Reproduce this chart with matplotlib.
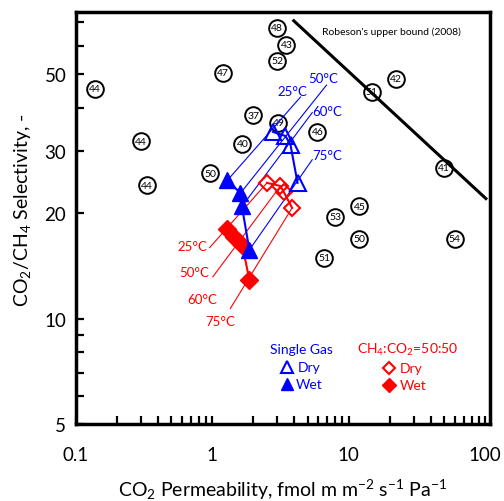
import numpy as np
import matplotlib
matplotlib.use("Agg")
import matplotlib.pyplot as plt
from matplotlib.ticker import FixedLocator, NullFormatter, FixedFormatter

plt.rcParams['font.family'] = ['Lato', 'DejaVu Sans']
plt.rcParams['mathtext.fontset'] = 'custom'
plt.rcParams['mathtext.rm'] = 'Lato'
plt.rcParams['mathtext.it'] = 'Lato:italic'
plt.rcParams['mathtext.bf'] = 'Lato:bold'

# literature membranes: reference number, CO2 permeability, CO2/CH4 selectivity
lit_refs = [44, 44, 44, 47, 48, 43, 52, 37, 49, 40, 50, 46, 42, 51, 41, 45, 53, 50, 51, 54]
lit_perm = [0.138, 0.30, 0.333, 1.2, 3.0, 3.5, 3.0, 2.0, 3.06, 1.66, 0.97, 5.9,
            22.2, 14.8, 50.0, 12.0, 8.0, 12.0, 6.6, 60.0]
lit_sel = [45.3, 32.1, 24.0, 50.3, 67.7, 60.5, 54.5, 38.1, 36.2, 31.5, 26.0, 34.1,
           48.4, 44.4, 26.9, 20.9, 19.5, 16.9, 14.9, 16.9]

temps = ["25°C", "50°C", "60°C", "75°C"]

# this work, single gas
sg_dry_perm = [2.79, 3.44, 3.75, 4.22]
sg_dry_sel = [34.1, 33.2, 31.3, 24.4]
sg_wet_perm = [1.29, 1.61, 1.65, 1.87]
sg_wet_sel = [24.8, 22.8, 20.9, 15.7]

# this work, CH4:CO2 = 50:50 mixture
mix_dry_perm = [2.52, 3.16, 3.36, 3.85]
mix_dry_sel = [24.4, 23.9, 22.9, 20.7]
mix_wet_perm = [1.29, 1.45, 1.66, 1.87]
mix_wet_sel = [18.0, 17.1, 16.2, 12.9]

# Robeson upper bound (2008), end points
robeson_perm = [3.96, 101.7]
robeson_sel = [70.8, 22.0]

BLUE = '#0000ff'
RED = '#ff0000'

fig = plt.figure(figsize=(5.04, 5.02), dpi=100)
ax = fig.add_axes([0.1508, 0.1534, 0.8214, 0.8207])
ax.set_xscale('log')
ax.set_yscale('log')
ax.set_xlim(0.1, 109)
ax.set_ylim(5, 75)

# literature points as numbered circles
ax.plot(lit_perm, lit_sel, 'o', ms=12, mfc='none', mec='black', mew=1.4, ls='none', zorder=2)
for r, x, y in zip(lit_refs, lit_perm, lit_sel):
    ax.text(x, y, str(r), ha='center', va='center', fontsize=7.5, zorder=2)

ax.plot(robeson_perm, robeson_sel, color='black', lw=2.2, zorder=3)
ax.text(0.763, 0.953, "Robeson's upper bound (2008)", transform=ax.transAxes,
        ha='center', va='center', fontsize=7.5)

# leader lines from the temperature labels
blue_lbl = [(3.87, 44.7), (6.55, 48.7), (7.02, 39.2), (7.02, 29.3)]
blue_lead = [(4.44, 42.9), (6.89, 46.4), (5.41, 38.7), (5.41, 28.4)]
for t, (lx, ly), (sx, sy), wx, wy in zip(temps, blue_lbl, blue_lead, sg_wet_perm, sg_wet_sel):
    ax.plot([sx, wx], [sy, wy], color=BLUE, lw=0.8, zorder=3)
    ax.text(lx, ly, t, color=BLUE, fontsize=9.5, ha='center', va='center')

red_lbl = [(0.713, 16.07), (0.731, 13.55), (0.84, 11.4), (1.145, 9.83)]
red_lead = [(0.955, 15.93), (1.01, 13.16), None, (1.356, 10.68)]
for t, (lx, ly), s, dx, dy in zip(temps, red_lbl, red_lead, mix_dry_perm, mix_dry_sel):
    if s is not None:
        ax.plot([s[0], dx], [s[1], dy], color=RED, lw=0.8, zorder=3)
    ax.text(lx, ly, t, color=RED, fontsize=9.5, ha='center', va='center')

# this work
ax.plot(mix_dry_perm, mix_dry_sel, '-D', color=RED, ms=8, mfc='none', mew=1.5, lw=1.5, zorder=4)
ax.plot(mix_wet_perm, mix_wet_sel, '-D', color=RED, ms=9, mfc=RED, mew=1, lw=1.5, zorder=4)
ax.plot(sg_dry_perm, sg_dry_sel, '-^', color=BLUE, ms=11, mfc='none', mew=1.5, lw=1.5, zorder=5)
ax.plot(sg_wet_perm, sg_wet_sel, '-^', color=BLUE, ms=11, mfc=BLUE, mew=1, lw=1.5, zorder=5)

# legend, drawn by hand
tr = ax.transAxes
ax.text(0.545, 0.182, 'Single Gas', color=BLUE, fontsize=10, ha='center', va='center', transform=tr)
ax.plot([0.509], [0.1376], '^', color=BLUE, ms=8, mfc='none', mew=1.5, transform=tr)
ax.text(0.535, 0.1376, 'Dry', color=BLUE, fontsize=10, va='center', transform=tr)
ax.plot([0.509], [0.097], '^', color=BLUE, ms=8, mfc=BLUE, transform=tr)
ax.text(0.53, 0.097, 'Wet', color=BLUE, fontsize=10, va='center', transform=tr)

ax.text(0.80, 0.182, 'CH$_4$:CO$_2$=50:50', color=RED, fontsize=10, ha='center', va='center', transform=tr)
ax.plot([0.757], [0.135], 'D', color=RED, ms=6, mfc='none', mew=1.5, transform=tr)
ax.text(0.783, 0.135, 'Dry', color=RED, fontsize=10, va='center', transform=tr)
ax.plot([0.757], [0.095], 'D', color=RED, ms=7, mfc=RED, transform=tr)
ax.text(0.783, 0.095, 'Wet', color=RED, fontsize=10, va='center', transform=tr)

# axes styling
for side in ['top', 'right', 'bottom', 'left']:
    ax.spines[side].set_linewidth(2.5)

ax.xaxis.set_major_locator(FixedLocator([0.1, 1, 10, 100]))
ax.xaxis.set_major_formatter(FixedFormatter(['0.1', '1', '10', '100']))
xminor = [m * d for d in [0.1, 1, 10] for m in range(2, 10)]
ax.xaxis.set_minor_locator(FixedLocator(xminor))
ax.xaxis.set_minor_formatter(NullFormatter())

ax.yaxis.set_major_locator(FixedLocator([5, 10, 20, 30, 50]))
ax.yaxis.set_major_formatter(FixedFormatter(['5', '10', '20', '30', '50']))
ax.yaxis.set_minor_locator(FixedLocator([6, 7, 8, 9, 40, 60, 70]))
ax.yaxis.set_minor_formatter(NullFormatter())

ax.tick_params(which='both', direction='in', length=5.5, width=1.6, top=False, right=False)
ax.tick_params(axis='x', which='major', labelsize=13.5, pad=16)
ax.tick_params(axis='y', which='major', labelsize=13.5, pad=7)

ax.set_xlabel('CO$_2$ Permeability, fmol m m$^{-2}$ s$^{-1}$ Pa$^{-1}$', fontsize=14, va='center')
ax.xaxis.set_label_coords(0.498, -0.157)
ax.set_ylabel('CO$_2$/CH$_4$ Selectivity, -', fontsize=14, va='center')
ax.yaxis.set_label_coords(-0.13, 0.522)

fig.savefig('out.png', dpi=100)
